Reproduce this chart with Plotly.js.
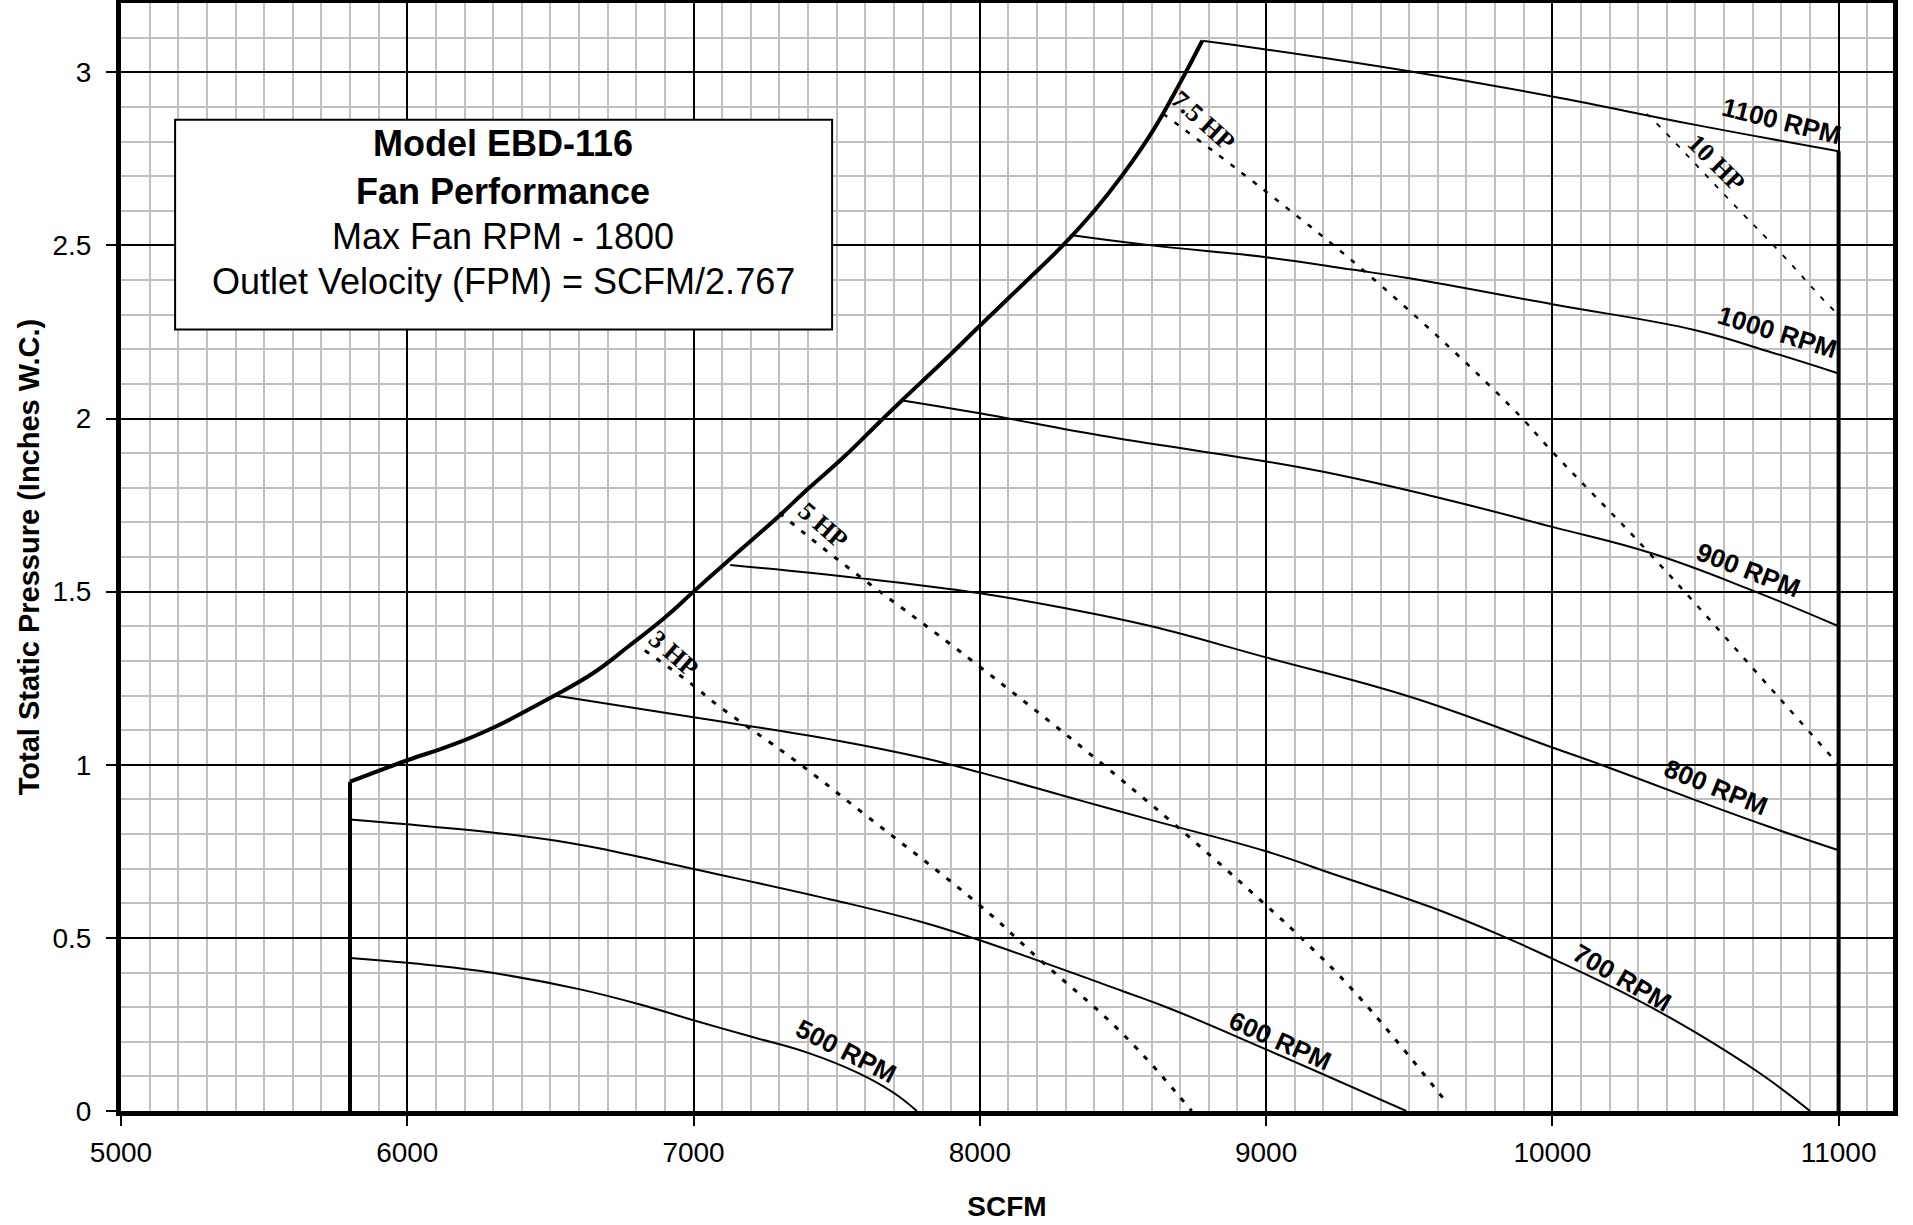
<!DOCTYPE html>
<html>
<head>
<meta charset="utf-8">
<script src="https://cdn.plot.ly/plotly-3.0.1.min.js"></script>
<style>
html,body{margin:0;padding:0;background:#ffffff;}
#chart{width:1913px;height:1225px;}
</style>
</head>
<body>
<div id="chart"></div>
<script>
// ---------- DATA ----------
const xTicks = [5000, 6000, 7000, 8000, 9000, 10000, 11000];
const yTicks = [0, 0.5, 1, 1.5, 2, 2.5, 3];
const yTickText = ['0', '0.5', '1', '1.5', '2', '2.5', '3'];

// operating-range boundary (thick)
const wallLeftX = [5800, 5800];
const wallLeftY = [0, 0.951];
const limitX = [5800, 6000, 6150, 6300, 6510, 6650, 6770, 6900, 7000, 7130, 7290, 7400, 7520, 7650, 7725, 7870, 8000, 8160, 8290, 8400, 8500, 8600, 8700, 8777];
const limitY = [0.951, 1.013, 1.055, 1.107, 1.198, 1.265, 1.34, 1.425, 1.5, 1.596, 1.712, 1.797, 1.885, 1.99, 2.05, 2.163, 2.268, 2.395, 2.5, 2.6, 2.705, 2.825, 2.97, 3.091];
const wallRightX = [11000, 11000];
const wallRightY = [2.772, 0];

// fan curves (RPM)
const rpm1100X = [8777, 9000, 9500, 10000, 10500, 11000];
const rpm1100Y = [3.091, 3.066, 3.003, 2.93, 2.848, 2.772];
const rpm1000X = [8316, 8600, 9000, 9300, 9500, 10000, 10500, 10750, 11000];
const rpm1000Y = [2.53, 2.5, 2.466, 2.43, 2.405, 2.33, 2.255, 2.195, 2.13];
const rpm900X = [7725, 8000, 8450, 9000, 9200, 9600, 10000, 10350, 10700, 11000];
const rpm900Y = [2.053, 2.015, 1.947, 1.876, 1.846, 1.772, 1.687, 1.61, 1.503, 1.40];
const rpm800X = [7128, 7577, 8000, 8300, 8600, 9000, 9500, 10000, 10170, 10500, 10750, 11000];
const rpm800Y = [1.577, 1.539, 1.495, 1.452, 1.40, 1.31, 1.197, 1.05, 1.0, 0.898, 0.823, 0.753];
const rpm700X = [6510, 7000, 7500, 7800, 8000, 8350, 8600, 9000, 9250, 9575, 9840, 10000, 10280, 10500, 10730, 10900];
const rpm700Y = [1.201, 1.137, 1.07, 1.02, 0.978, 0.897, 0.84, 0.75, 0.68, 0.589, 0.5, 0.44, 0.328, 0.227, 0.106, 0.0];
const rpm600X = [5800, 6000, 6344, 6563, 6703, 7000, 7500, 7800, 8000, 8500, 8670, 9000, 9490];
const rpm600Y = [0.842, 0.828, 0.8, 0.775, 0.753, 0.699, 0.607, 0.545, 0.493, 0.346, 0.294, 0.178, 0.0];
const rpm500X = [5800, 6000, 6250, 6600, 6850, 7000, 7200, 7400, 7580, 7700, 7780];
const rpm500Y = [0.442, 0.428, 0.405, 0.352, 0.299, 0.262, 0.215, 0.168, 0.108, 0.052, 0.0];

// horsepower lines (dotted)
const hp3X = [6830, 6990, 7084, 7360, 7600, 8000, 8200, 8500, 8740];
const hp3Y = [1.33, 1.235, 1.172, 1.009, 0.855, 0.594, 0.444, 0.222, 0.0];
const hp5X = [7300, 7520, 8000, 8580, 9000, 9135, 9310, 9635];
const hp5Y = [1.727, 1.582, 1.283, 0.898, 0.594, 0.49, 0.343, 0.02];
const hp75X = [8640, 9000, 9400, 9860, 10000, 10340, 10800, 11000];
const hp75Y = [2.88, 2.655, 2.385, 2.03, 1.904, 1.61, 1.186, 1.0];
const hp10X = [10330, 10372, 10620, 10800, 10962, 11000];
const hp10Y = [2.88, 2.846, 2.63, 2.476, 2.33, 2.30];

// curve labels
const rpmLabels = ['1100 RPM', '1000 RPM', '900 RPM', '800 RPM', '700 RPM', '600 RPM', '500 RPM'];
const hpLabels = ['3 HP', '5 HP', '7.5 HP', '10 HP'];

// info box text
const boxLines = ['Model EBD-116', 'Fan Performance', 'Max Fan RPM - 1800', 'Outlet Velocity (FPM) = SCFM/2.767'];

// ---------- PLACEMENT / STYLE ----------
const rpmLabelPlace = [
  {x: 10800, y: 2.86, a: 14},
  {x: 10785, y: 2.25, a: 17},
  {x: 10685, y: 1.562, a: 21},
  {x: 10570, y: 0.937, a: 22},
  {x: 10245, y: 0.385, a: 30},
  {x: 9050,  y: 0.203, a: 24},
  {x: 7532,  y: 0.173, a: 27}
];
const hpLabelPlace = [
  {x: 6930, y: 1.322, a: 41},
  {x: 7452, y: 1.690, a: 41},
  {x: 8780, y: 2.862, a: 42},
  {x: 10575, y: 2.737, a: 45}
];
const boxPlace = {x0: 5189, x1: 7484, y0: 2.257, y1: 2.863, cx: 6336, lineY: [2.793, 2.655, 2.525, 2.395]};

const SANS = 'Liberation Sans, Arial, Helvetica, sans-serif';
const SERIF = 'Liberation Serif, Times New Roman, serif';

function line(x, y, w, dash, shape) {
  return {x: x, y: y, type: 'scatter', mode: 'lines', hoverinfo: 'skip',
    line: {color: '#000000', width: w, dash: dash || 'solid', shape: shape || 'linear', smoothing: 1.2}};
}

const traces = [
  line(rpm1100X, rpm1100Y, 2, null, 'spline'),
  line(rpm1000X, rpm1000Y, 2, null, 'spline'),
  line(rpm900X, rpm900Y, 2, null, 'spline'),
  line(rpm800X, rpm800Y, 2, null, 'spline'),
  line(rpm700X, rpm700Y, 2, null, 'spline'),
  line(rpm600X, rpm600Y, 2, null, 'spline'),
  line(rpm500X, rpm500Y, 2, null, 'spline'),
  line(hp3X, hp3Y, 3, '5px,9px', 'spline'),
  line(hp5X, hp5Y, 3, '5px,9px', 'spline'),
  line(hp75X, hp75Y, 2.5, '5px,9px', 'spline'),
  line(hp10X, hp10Y, 1.8, '5px,9px', 'spline'),
  line(wallLeftX, wallLeftY, 4),
  line(limitX, limitY, 4, null, 'spline'),
  line(wallRightX, wallRightY, 4)
];

const annotations = [];
rpmLabels.forEach((t, i) => {
  const p = rpmLabelPlace[i];
  annotations.push({x: p.x, y: p.y, xref: 'x', yref: 'y', text: t, showarrow: false,
    textangle: p.a, xanchor: 'center', yanchor: 'middle',
    font: {family: SANS, size: 26, color: '#000', weight: 'bold'}});
});
hpLabels.forEach((t, i) => {
  const p = hpLabelPlace[i];
  annotations.push({x: p.x, y: p.y, xref: 'x', yref: 'y', text: t, showarrow: false,
    textangle: p.a, xanchor: 'center', yanchor: 'middle',
    font: {family: SERIF, size: 26, color: '#000', weight: 'bold'}});
});
boxLines.forEach((t, i) => {
  annotations.push({x: boxPlace.cx, y: boxPlace.lineY[i], xref: 'x', yref: 'y', text: t, showarrow: false,
    xanchor: 'center', yanchor: 'middle',
    font: {family: SANS, size: 36, color: '#000', weight: i < 2 ? 'bold' : 'normal'}});
});

const layout = {
  width: 1913, height: 1225,
  margin: {l: 121, r: 20, t: 3, b: 114, pad: 0},
  paper_bgcolor: '#ffffff', plot_bgcolor: '#ffffff',
  showlegend: false, hovermode: false,
  font: {family: SANS, color: '#000'},
  xaxis: {
    range: [5000, 11190], tickvals: xTicks, ticktext: xTicks.map(String),
    showgrid: true, gridcolor: '#000000', gridwidth: 2, zeroline: false,
    minor: {dtick: 100, tick0: 5000, showgrid: true, gridcolor: '#c0c0c0', gridwidth: 2, ticks: ''},
    showline: true, linecolor: '#000', linewidth: 5, mirror: true,
    ticks: 'outside', ticklen: 10, tickwidth: 2, tickcolor: '#000',
    ticklabelstandoff: 2,
    tickfont: {family: SANS, size: 28, color: '#000'},
    title: {text: 'SCFM', standoff: 31, font: {family: SANS, size: 28, color: '#000', weight: 'bold'}},
    automargin: false, fixedrange: true
  },
  yaxis: {
    range: [0, 3.2], tickvals: yTicks, ticktext: yTickText,
    showgrid: true, gridcolor: '#000000', gridwidth: 2, zeroline: false,
    minor: {dtick: 0.1, tick0: 0, showgrid: true, gridcolor: '#c0c0c0', gridwidth: 2, ticks: ''},
    showline: true, linecolor: '#000', linewidth: 5, mirror: true,
    ticks: 'outside', ticklen: 10, tickwidth: 2, tickcolor: '#000',
    ticklabelstandoff: 9,
    tickfont: {family: SANS, size: 28, color: '#000'},
    title: {text: 'Total Static Pressure (Inches W.C.)', standoff: 6, font: {family: SANS, size: 29, color: '#000', weight: 'bold'}},
    automargin: false, fixedrange: true
  },
  shapes: [
    {type: 'rect', xref: 'x', yref: 'y', x0: boxPlace.x0, x1: boxPlace.x1, y0: boxPlace.y0, y1: boxPlace.y1,
     fillcolor: '#ffffff', line: {color: '#000', width: 2}, layer: 'above'}
  ],
  annotations: annotations
};

Plotly.newPlot('chart', traces, layout, {staticPlot: true, displayModeBar: false});
</script>
</body>
</html>
